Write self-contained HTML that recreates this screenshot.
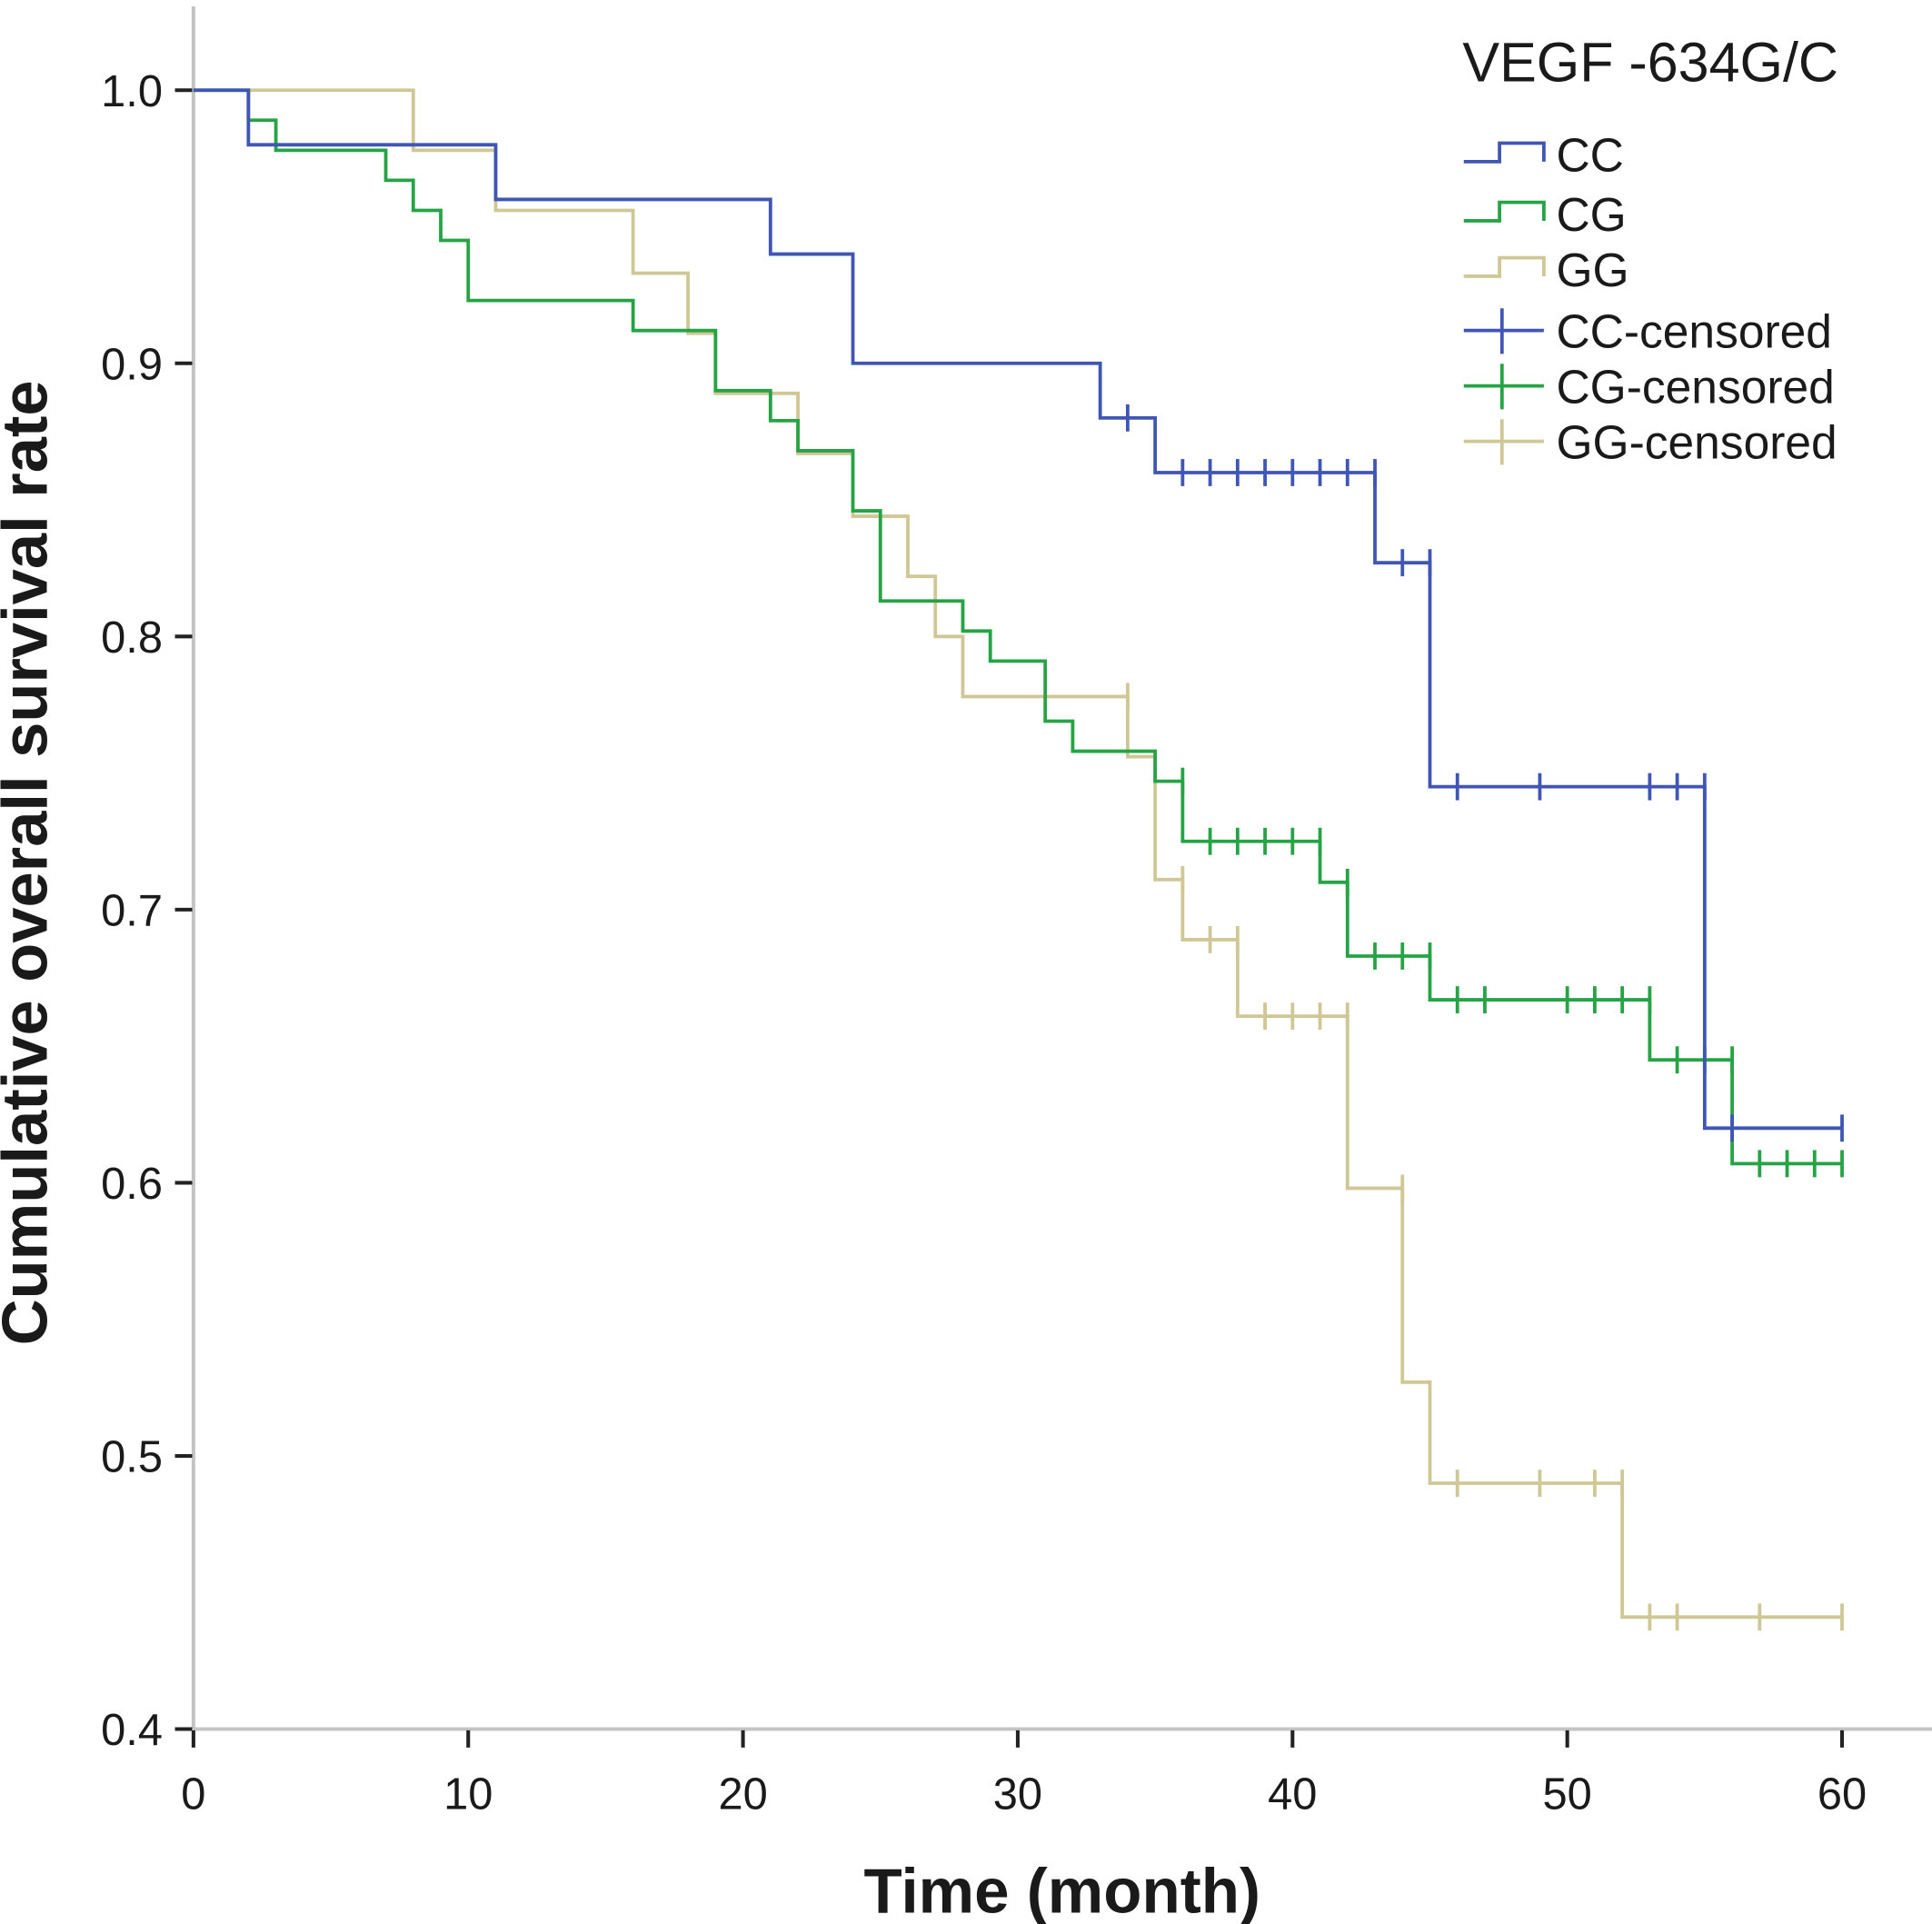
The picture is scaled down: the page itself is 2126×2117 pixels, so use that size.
<!DOCTYPE html>
<html><head><meta charset="utf-8"><style>body{margin:0;background:#fff}svg{display:block}text{font-family:"Liberation Sans",Arial,sans-serif;fill:#1a1a1a}</style></head>
<body>
<svg id="chart" width="2126" height="2117" viewBox="0 0 1568 1561" xmlns="http://www.w3.org/2000/svg">
<g id="axes"></g><g id="series"></g><g id="legend"></g>
</svg>
<script>
const xTicks=[0,10,20,30,40,50,60];
const yTicks=[0.4,0.5,0.6,0.7,0.8,0.9,1.0];
const ccTimes=[0,2,11,21,24,33,35,43,45,55,60];
const ccSurv=[1.0,0.98,0.96,0.94,0.90,0.88,0.86,0.827,0.745,0.62,0.62];
const ccCensT=[34,36,37,38,39,40,41,42,43,44,45,46,49,53,54,55,56,60];
const cgTimes=[0,2,3,7,8,9,10,16,19,21,22,24,25,28,29,31,32,35,36,41,42,45,53,56,60];
const cgSurv=[1.0,0.989,0.978,0.967,0.956,0.945,0.923,0.912,0.89,0.879,0.868,0.846,0.813,0.802,0.791,0.769,0.758,0.747,0.725,0.71,0.683,0.667,0.645,0.607,0.607];
const cgCensT=[36,37,38,39,40,41,42,43,44,45,46,47,50,51,52,53,54,55,56,57,58,59,60];
const ggTimes=[0,8,11,16,18,19,22,24,26,27,28,34,35,36,38,42,44,45,52,60];
const ggSurv=[1.0,0.978,0.956,0.933,0.911,0.889,0.867,0.844,0.822,0.8,0.778,0.756,0.711,0.689,0.661,0.598,0.527,0.49,0.441,0.441];
const ggCensT=[34,36,37,38,39,40,41,42,44,46,49,51,52,53,54,57,60];
const seriesNames=["CC","CG","GG"];
const NS="http://www.w3.org/2000/svg";
const X=t=>157+t*(1495-157)/60;
const Y=v=>1403-(v-0.4)*(1403-73)/0.6;
function mk(tag,attrs,parent,txt){const e=document.createElementNS(NS,tag);for(const k in attrs)e.setAttribute(k,attrs[k]);if(txt!==undefined)e.textContent=txt;parent.appendChild(e);return e;}
const axes=document.getElementById('axes');
let e;
e=mk('line',{x1:157,y1:5,x2:157,y2:1403,stroke:'#c4c4c4','stroke-width':3},axes);

e=mk('line',{x1:157,y1:1403,x2:1568,y2:1403,stroke:'#c4c4c4','stroke-width':3},axes);

xTicks.forEach(t=>{
 e=mk('line',{x1:X(t),y1:1404,x2:X(t),y2:1418,stroke:'#222','stroke-width':3},axes);
 
 e=mk('text',{x:X(t),y:1468,'font-size':36,'text-anchor':'middle'},axes,String(t));
 
});
yTicks.forEach(v=>{
 e=mk('line',{x1:142,y1:Y(v),x2:156,y2:Y(v),stroke:'#222','stroke-width':3},axes);
 
 e=mk('text',{x:132,y:Y(v)+13,'font-size':36,'text-anchor':'end'},axes,v.toFixed(1));
 
});
e=mk('text',{x:862,y:1552,'font-size':51,'font-weight':'bold','text-anchor':'middle'},axes,'Time (month)');

e=mk('text',{x:0,y:0,'font-size':52,'font-weight':'bold','text-anchor':'middle',transform:'translate(38,700) rotate(-90)'},axes,'Cumulative overall survival rate');

const colors=["#3f56b4","#26a345","#cfc795"];
const all=[[ccTimes,ccSurv,ccCensT],[cgTimes,cgSurv,cgCensT],[ggTimes,ggSurv,ggCensT]];
const ser=document.getElementById('series');
function survAt(T,S,t){let v=S[0];for(let i=0;i<T.length;i++){if(T[i]<=t)v=S[i];}return v;}
[2,1,0].forEach(si=>{
 const [T,S,C]=all[si];
 let d='M'+X(T[0])+','+Y(S[0]);
 for(let i=1;i<T.length;i++){d+=' H'+X(T[i])+' V'+Y(S[i]);}
 e=mk('path',{d:d,fill:'none',stroke:colors[si],'stroke-width':2.8},ser);
 
 C.forEach(t=>{
  let v=survAt(T,S,t-0.001);
  const x=X(t),y=Y(v);
  e=mk('line',{x1:x,y1:y-11,x2:x,y2:y+11,stroke:colors[si],'stroke-width':2.8},ser);
  
 });
});
const lg=document.getElementById('legend');
e=mk('text',{x:1187,y:66,'font-size':45},lg,'VEGF -634G/C');

const labels=["CC","CG","GG","CC-censored","CG-censored","GG-censored"];
const bases=[139,187,232,282,327,372];
labels.forEach((lab,i)=>{
 const c=colors[i%3],b=bases[i];
 const g=mk('g',{},lg);
 
 if(i<3){mk('path',{d:`M1188,${b-8} H1217 V${b-23} H1253 V${b-8}`,fill:'none',stroke:c,'stroke-width':2.8},g);}
 else{mk('line',{x1:1188,y1:b-14,x2:1253,y2:b-14,stroke:c,'stroke-width':2.8},g);mk('line',{x1:1219,y1:b-32,x2:1219,y2:b+5,stroke:c,'stroke-width':2.8},g);}
 mk('text',{x:1263,y:b,'font-size':38},g,lab);
});
</script>
</body></html>
